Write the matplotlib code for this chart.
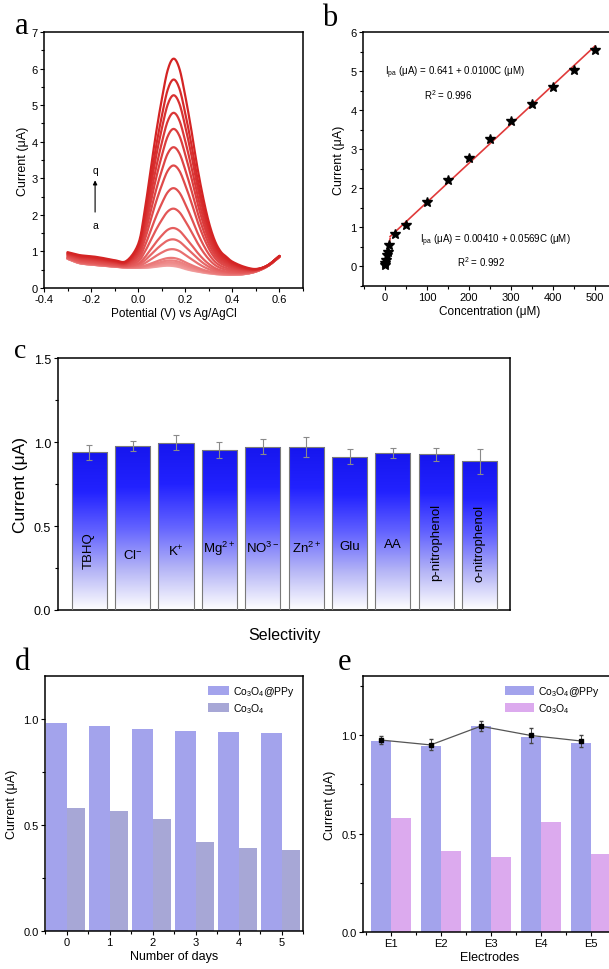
import numpy as np
import matplotlib
matplotlib.use("Agg")
import matplotlib.pyplot as plt
from matplotlib.colors import LinearSegmentedColormap
from matplotlib.ticker import MultipleLocator

plt.rcParams['font.family'] = ['Liberation Sans', 'DejaVu Sans']
plt.rcParams['mathtext.fontset'] = 'custom'
plt.rcParams['mathtext.rm'] = 'Liberation Sans'
plt.rcParams['mathtext.it'] = 'Liberation Sans:italic'
plt.rcParams['axes.linewidth'] = 1.1

# ---------------- data ----------------
# panel a: DPV curves
potential = [-0.30, -0.25, -0.20, -0.15, -0.10, -0.05, 0.00, 0.025, 0.05, 0.075,
             0.10, 0.125, 0.15, 0.175, 0.20, 0.225, 0.25, 0.275, 0.30, 0.325,
             0.35, 0.375, 0.40, 0.45, 0.50, 0.55, 0.60]
top_curve = [0.98, 0.90, 0.87, 0.82, 0.76, 0.74, 1.20, 2.00, 3.10, 4.20,
             5.15, 5.95, 6.27, 6.00, 5.25, 4.35, 3.35, 2.50, 1.80, 1.30,
             1.00, 0.85, 0.72, 0.58, 0.52, 0.62, 0.88]
bottom_curve = [0.80, 0.68, 0.64, 0.61, 0.58, 0.56, 0.55, 0.55, 0.56, 0.58,
                0.60, 0.61, 0.60, 0.57, 0.52, 0.48, 0.45, 0.42, 0.40, 0.38,
                0.37, 0.36, 0.36, 0.38, 0.45, 0.60, 0.85]
peak_heights = [0.60, 0.62, 0.66, 0.70, 0.75, 0.82, 1.06, 1.33, 1.64, 2.17,
                2.73, 3.35, 3.85, 4.35, 4.79, 5.27, 5.70, 6.27]

# panel b: calibration
conc = [0.5, 1, 3, 5, 7, 10, 25, 50, 100, 150, 200, 250, 300, 350, 400, 450, 500]
ipa = [0.03, 0.08, 0.17, 0.29, 0.38, 0.56, 0.83, 1.06, 1.65, 2.20, 2.78, 3.27,
       3.73, 4.17, 4.58, 5.03, 5.55]
fit_low = (0.00410, 0.0569)
fit_high = (0.641, 0.0100)
fit_break = 12.5

# panel c: selectivity
species = ['TBHQ', 'Cl$^{-}$', 'K$^{+}$', 'Mg$^{2+}$', 'NO$^{3-}$', 'Zn$^{2+}$',
           'Glu', 'AA', 'p-nitrophenol', 'o-nitrophenol']
sel_current = [0.94, 0.976, 0.997, 0.952, 0.972, 0.970, 0.912, 0.936, 0.927, 0.884]
sel_err = [0.045, 0.032, 0.045, 0.048, 0.046, 0.060, 0.045, 0.030, 0.040, 0.072]
label_rot = [90, 0, 0, 0, 0, 0, 0, 0, 90, 90]
label_y = [0.36, 0.33, 0.35, 0.37, 0.37, 0.37, 0.38, 0.39, 0.41, 0.40]

# panel d: stability
days = [0, 1, 2, 3, 4, 5]
d_ppy = [0.980, 0.965, 0.952, 0.942, 0.938, 0.932]
d_co = [0.577, 0.563, 0.527, 0.417, 0.390, 0.382]

# panel e: reproducibility
electrodes = ['E1', 'E2', 'E3', 'E4', 'E5']
e_ppy = [0.970, 0.945, 1.045, 0.990, 0.962]
e_co = [0.577, 0.413, 0.383, 0.561, 0.398]
e_line = [0.975, 0.950, 1.045, 0.998, 0.970]
e_line_err = [0.018, 0.028, 0.024, 0.038, 0.032]

# ---------------- figure ----------------
W, H = 609, 970
fig = plt.figure(figsize=(W / 100, H / 100), dpi=100)


def pax(l, t, r, b):
    return fig.add_axes([l / W, 1 - b / H, (r - l) / W, (b - t) / H])


def smooth(xs, ys, k=12):
    """Catmull-Rom rendering of the read points (for a smooth drawn line)."""
    xs = np.asarray(xs, float)
    ys = np.asarray(ys, float)
    px = np.concatenate([[2 * xs[0] - xs[1]], xs, [2 * xs[-1] - xs[-2]]])
    py = np.concatenate([[2 * ys[0] - ys[1]], ys, [2 * ys[-1] - ys[-2]]])
    ox, oy = [], []
    t = np.linspace(0, 1, k, endpoint=False)
    for i in range(1, len(px) - 2):
        for arr, out in ((px, ox), (py, oy)):
            p0, p1, p2, p3 = arr[i - 1], arr[i], arr[i + 1], arr[i + 2]
            out.extend(0.5 * ((2 * p1) + (-p0 + p2) * t + (2 * p0 - 5 * p1 + 4 * p2 - p3) * t ** 2
                              + (-p0 + 3 * p1 - 3 * p2 + p3) * t ** 3))
    ox.append(xs[-1])
    oy.append(ys[-1])
    return np.array(ox), np.array(oy)


tick_kw = dict(direction='out', labelsize=8, length=3, width=0.8, pad=1.5)

# ---- panel a ----
ax = pax(44, 33, 303, 289)
top = np.array(top_curve)
bot = np.array(bottom_curve)
hb, ht = peak_heights[0], peak_heights[-1]
cmap_a = LinearSegmentedColormap.from_list('r', ['#f3a3a3', '#e45a5a', '#d42424'])
n = len(peak_heights)
for i, h in enumerate(peak_heights):
    f = (h - hb) / (ht - hb)
    sx, sy = smooth(potential, bot + (top - bot) * f)
    ax.plot(sx, sy, color=cmap_a(i / (n - 1)), lw=1.6, solid_capstyle='round')
ax.set_xlim(-0.4, 0.7)
ax.set_ylim(0, 7)
ax.set_xticks([-0.4, -0.2, 0.0, 0.2, 0.4, 0.6])
ax.set_xticklabels(['-0.4', '-0.2', '0.0', '0.2', '0.4', '0.6'])
ax.xaxis.set_minor_locator(MultipleLocator(0.1))
ax.yaxis.set_minor_locator(MultipleLocator(0.5))
ax.tick_params(which='both', **tick_kw)
ax.tick_params(which='minor', length=2)
ax.set_xlabel('Potential (V) vs Ag/AgCl', fontsize=8.5, labelpad=2)
ax.set_ylabel('Current (μA)', fontsize=9, labelpad=2)
ax.annotate('', xy=(-0.183, 3.02), xytext=(-0.183, 2.0),
            arrowprops=dict(arrowstyle='-|>', color='black', lw=0.8, mutation_scale=6))
ax.text(-0.183, 3.22, 'q', ha='center', va='center', fontsize=7.5)
ax.text(-0.183, 1.72, 'a', ha='center', va='center', fontsize=7.5)
fig.text(15 / W, 1 - 26 / H, 'a', fontsize=22, family='Liberation Serif', va='center')

# ---- panel b ----
ax = pax(363, 33, 616, 287)
c1 = np.array([0, fit_break])
c2 = np.array([fit_break, 500])
ax.plot(c1, fit_low[0] + fit_low[1] * c1, color='#e03a3a', lw=1.2)
ax.plot(c2, fit_high[0] + fit_high[1] * c2, color='#e03a3a', lw=1.2)
ax.plot(conc, ipa, linestyle='none', marker='*', color='black', ms=7)
ax.set_xlim(-52, 550)
ax.set_ylim(-0.5, 6)
ax.set_xticks([0, 100, 200, 300, 400, 500])
ax.set_yticks([0, 1, 2, 3, 4, 5, 6])
ax.xaxis.set_minor_locator(MultipleLocator(50))
ax.yaxis.set_minor_locator(MultipleLocator(0.5))
ax.tick_params(which='both', **tick_kw)
ax.tick_params(which='minor', length=2)
ax.set_xlabel('Concentration (μM)', fontsize=8.5, labelpad=2)
ax.set_ylabel('Current (μA)', fontsize=9, labelpad=4)
ax.text(0, 4.98, 'I$_{\\rm pa}$ (μA) = 0.641 + 0.0100C (μM)', fontsize=7, va='center')
ax.text(150, 4.42, 'R$^{2}$ = 0.996', fontsize=7, ha='center', va='center')
ax.text(83, 0.68, 'I$_{\\rm pa}$ (μA) = 0.00410 + 0.0569C (μM)', fontsize=7, va='center')
ax.text(230, 0.13, 'R$^{2}$ = 0.992', fontsize=7, ha='center', va='center')
fig.text(322 / W, 1 - 19 / H, 'b', fontsize=22, family='Liberation Serif', va='center')

# ---- panel c ----
ax = pax(58, 359, 510, 611)
x = np.arange(len(species))
bw = 0.81
bars = ax.bar(x, sel_current, width=bw, color='none', edgecolor='#7a7a7a', lw=0.8, zorder=3)
grad = LinearSegmentedColormap.from_list('g', ['#ffffff', '#b4b4f6', '#6262ff', '#2222ff', '#1616ee'])
gimg = np.linspace(0, 1, 256).reshape(-1, 1)
for xi, h, b in zip(x, sel_current, bars):
    im = ax.imshow(gimg, extent=(xi - bw / 2, xi + bw / 2, 0, h), origin='lower',
                   cmap=grad, aspect='auto', zorder=2)
    im.set_clip_path(b)
ax.errorbar(x, sel_current, yerr=sel_err, fmt='none', ecolor='#8a8a8a', elinewidth=0.8,
            capsize=2, capthick=0.8, zorder=4)
for xi, lab, rot, ly in zip(x, species, label_rot, label_y):
    ax.text(xi, ly, lab, rotation=rot, ha='center', va='center', fontsize=9.5, zorder=5)
ax.set_xlim(-0.72, 9.7)
ax.set_ylim(0, 1.5)
ax.set_xticks([])
ax.set_yticks([0, 0.5, 1.0, 1.5])
ax.yaxis.set_minor_locator(MultipleLocator(0.25))
ax.tick_params(which='both', direction='out', labelsize=9, length=3, width=0.8, pad=2)
ax.tick_params(which='minor', length=2)
ax.set_ylabel('Current (μA)', fontsize=12.5, labelpad=4)
ax.set_xlabel('Selectivity', fontsize=11.5, labelpad=12)
fig.text(14 / W, 1 - 352 / H, 'c', fontsize=20, family='Liberation Serif', va='center')

# ---- panel d ----
ax = pax(45, 677, 303, 932)
xd = np.array(days)
ax.bar(xd - 0.23, d_ppy, width=0.5, color='#a3a3ec', label='Co$_3$O$_4$@PPy', zorder=2)
ax.bar(xd + 0.23, d_co, width=0.42, color='#a7a7d6', label='Co$_3$O$_4$', zorder=2)
ax.set_xlim(-0.5, 5.5)
ax.set_ylim(0, 1.2)
ax.set_xticks(days)
ax.set_yticks([0, 0.5, 1.0])
ax.set_yticklabels(['0.0', '0.5', '1.0'])
ax.yaxis.set_minor_locator(MultipleLocator(0.25))
ax.xaxis.set_minor_locator(MultipleLocator(0.5))
ax.tick_params(which='both', **tick_kw)
ax.tick_params(which='minor', length=2)
ax.set_xlabel('Number of days', fontsize=9, labelpad=2)
ax.set_ylabel('Current (μA)', fontsize=9, labelpad=4)
ax.legend(loc='upper right', frameon=False, fontsize=7.5, handlelength=2.0,
          handleheight=0.9, borderaxespad=0.4, labelspacing=0.25, handletextpad=0.4)
fig.text(15 / W, 1 - 663 / H, 'd', fontsize=22, family='Liberation Serif', va='center')

# ---- panel e ----
ax = pax(363, 677, 616, 933)
xe = np.arange(len(electrodes))
ax.bar(xe - 0.2, e_ppy, width=0.4, color='#a3a3ec', label='Co$_3$O$_4$@PPy', zorder=2)
ax.bar(xe + 0.2, e_co, width=0.4, color='#dcaaee', label='Co$_3$O$_4$', zorder=2)
ax.errorbar(xe - 0.2, e_line, yerr=e_line_err, color='#555555', lw=0.9, marker='s',
            ms=3.5, mfc='black', mec='black', ecolor='#444444', elinewidth=0.7,
            capsize=1.5, zorder=4)
ax.set_xlim(-0.55, 4.5)
ax.set_ylim(0, 1.3)
ax.set_xticks(xe)
ax.set_xticklabels(electrodes)
ax.set_yticks([0, 0.5, 1.0])
ax.set_yticklabels(['0.0', '0.5', '1.0'])
ax.yaxis.set_minor_locator(MultipleLocator(0.25))
ax.xaxis.set_minor_locator(MultipleLocator(0.5))
ax.tick_params(which='both', **tick_kw)
ax.tick_params(which='minor', length=2)
ax.set_xlabel('Electrodes', fontsize=9, labelpad=2)
ax.set_ylabel('Current (μA)', fontsize=9, labelpad=4)
ax.legend(loc='upper right', bbox_to_anchor=(0.97, 1.0), frameon=False, fontsize=7.5,
          handlelength=2.8, handleheight=0.9, borderaxespad=0.4, labelspacing=0.25,
          handletextpad=0.4)
fig.text(338 / W, 1 - 663 / H, 'e', fontsize=22, family='Liberation Serif', va='center')

fig.savefig('out.png', dpi=100)
